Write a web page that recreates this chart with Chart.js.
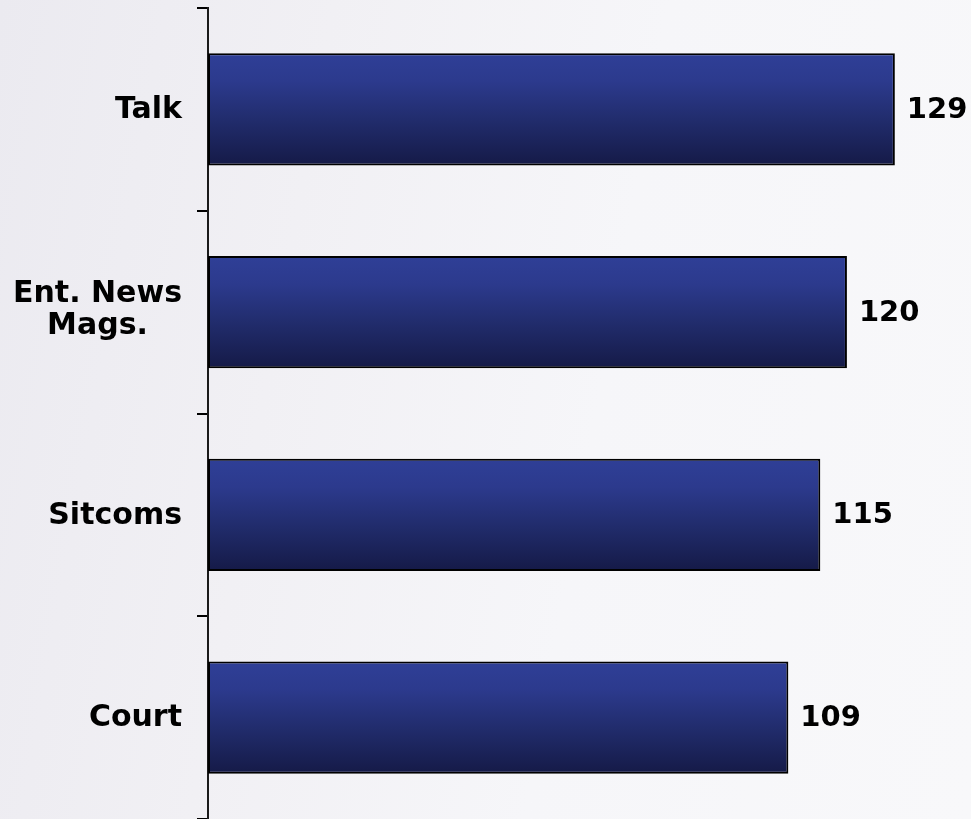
<!DOCTYPE html>
<html>
<head>
<meta charset="utf-8">
<script src="https://cdn.jsdelivr.net/npm/chart.js@4/dist/chart.umd.min.js"></script>
<style>
  html, body { margin: 0; padding: 0; }
  body {
    width: 971px; height: 819px; overflow: hidden;
    background: linear-gradient(100deg, #ebeaf0 0%, #f1f0f4 30%, #f6f6f9 60%, #f8f8fa 100%);
  }
  #wrap { position: relative; width: 971px; height: 819px; }
</style>
</head>
<body>
<div id="wrap"><canvas id="c" width="971" height="819"></canvas></div>
<script>
const categories = ["Talk", ["Ent. News", "Mags."], "Sitcoms", "Court"];
const values = [129, 120, 115, 109];
const valueLabels = ["129", "120", "115", "109"];

const CAT_FONT = "bold 30px 'DejaVu Sans', Verdana, sans-serif";
const VAL_FONT = "bold 29px 'DejaVu Sans', Verdana, sans-serif";
const BAR_PCT = 0.553;

function barFill(ctx) {
  const chart = ctx.chart;
  const ys = chart.scales && chart.scales.y;
  if (!chart.chartArea || !ys || ctx.dataIndex === undefined) return '#26337a';
  const cy = ys.getPixelForValue(ctx.dataIndex);
  const slot = ys.height / categories.length;
  const half = slot * BAR_PCT / 2;
  if (!isFinite(cy) || !isFinite(half)) return '#26337a';
  const g = chart.ctx.createLinearGradient(0, cy - half, 0, cy + half);
  g.addColorStop(0, '#2f3f97');
  g.addColorStop(0.25, '#2c3a8d');
  g.addColorStop(0.6, '#212c6c');
  g.addColorStop(1, '#151a47');
  return g;
}

const labelPlugin = {
  id: 'customLabels',
  afterDatasetsDraw(chart) {
    const ctx = chart.ctx;
    const ys = chart.scales.y;
    ctx.save();
    ctx.fillStyle = '#000';
    ctx.textBaseline = 'middle';
    ctx.font = CAT_FONT;
    const rightEdge = 182;
    const lineH = 32;
    categories.forEach((lab, i) => {
      const lines = Array.isArray(lab) ? lab : [lab];
      const widths = lines.map(l => ctx.measureText(l).width);
      const w = Math.max(...widths);
      const cx = rightEdge - w / 2;
      const cy = ys.getPixelForValue(i) + 1;
      ctx.textAlign = 'center';
      lines.forEach((l, k) => {
        const y = cy + (k - (lines.length - 1) / 2) * lineH - (lines.length > 1 ? 3 : 0);
        ctx.fillText(l, cx, y);
      });
    });
    ctx.font = VAL_FONT;
    const meta = chart.getDatasetMeta(0);
    ctx.textAlign = 'left';
    meta.data.forEach((bar, i) => {
      ctx.fillText(valueLabels[i], bar.x + 12, bar.y + 1);
    });
    ctx.restore();
  }
};

new Chart(document.getElementById('c'), {
  type: 'bar',
  data: {
    labels: categories,
    datasets: [{
      data: values,
      backgroundColor: barFill,
      borderColor: '#000',
      borderWidth: 2,
      borderSkipped: false,
      categoryPercentage: 1,
      barPercentage: BAR_PCT
    }]
  },
  options: {
    indexAxis: 'y',
    responsive: false,
    animation: false,
    events: [],
    layout: { padding: { top: 8, bottom: 0, left: 0, right: 0 } },
    plugins: { legend: { display: false }, tooltip: { enabled: false } },
    scales: {
      x: {
        display: false,
        min: 0,
        max: 143.3
      },
      y: {
        afterFit(scale) { scale.width = 208; scale.paddingTop = 0; scale.paddingBottom = 0; },
        border: { display: true, color: '#1a1a1a', width: 2 },
        grid: {
          drawOnChartArea: false,
          drawTicks: true,
          tickLength: 11,
          color: '#000',
          lineWidth: 2
        },
        ticks: { color: 'rgba(0,0,0,0)', font: { size: 1 }, padding: 0 }
      }
    }
  },
  plugins: [labelPlugin]
});
</script>
</body>
</html>
